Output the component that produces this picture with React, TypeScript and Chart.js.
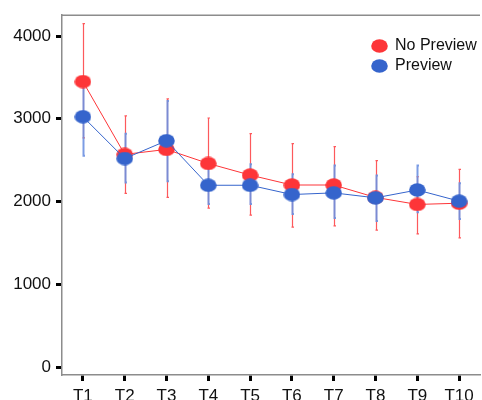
import React, { useEffect, useRef } from "react";
import { Chart, registerables } from "chart.js";

Chart.register(...registerables);

const categories = ["T1", "T2", "T3", "T4", "T5", "T6", "T7", "T8", "T9", "T10"];
const noPreview = [3450, 2570, 2630, 2460, 2320, 2200, 2200, 2050, 1965, 1980];
const noPreviewHigh = [4150, 3035, 3240, 3010, 2820, 2700, 2665, 2495, 2300, 2390];
const noPreviewLow = [2770, 2100, 2050, 1920, 1835, 1690, 1705, 1655, 1610, 1560];
const preview = [3025, 2520, 2735, 2197, 2197, 2085, 2105, 2045, 2140, 2005];
const previewHigh = [3500, 2820, 3215, 2450, 2450, 2330, 2435, 2315, 2435, 2220];
const previewLow = [2555, 2230, 2245, 1970, 1970, 1850, 1800, 1765, 1870, 1790];
const yTicks = [0, 1000, 2000, 3000, 4000];
const seriesNames = ["No Preview", "Preview"];

const RED = "#fd3538";
const BLUE = "#3564cc";
const RED_ERR = "rgba(253,60,64,0.85)";
const BLUE_ERR = "rgba(110,145,225,0.9)";
const FONT = "'Liberation Sans', Arial, Helvetica, sans-serif";

function ellipse(color: string, w: number, h: number): HTMLCanvasElement {
  const c = document.createElement("canvas");
  c.width = w;
  c.height = h;
  const ctx = c.getContext("2d")!;
  ctx.fillStyle = color;
  ctx.beginPath();
  ctx.ellipse(w / 2, h / 2, w / 2 - 0.2, h / 2 - 0.2, 0, 0, Math.PI * 2);
  ctx.fill();
  return c;
}

export default function App() {
  const ref = useRef<HTMLCanvasElement | null>(null);

  useEffect(() => {
    document.body.style.margin = "0";
    const canvas = ref.current!;
    const redPt = ellipse(RED, 17, 14);
    const bluePt = ellipse(BLUE, 17, 14);

    const errorBars = {
      id: "errorBars",
      beforeDatasetsDraw(chart: any) {
        const { ctx, scales } = chart;
        const x = scales.x;
        const y = scales.y;
        const sets = [
          { hi: noPreviewHigh, lo: noPreviewLow, color: RED_ERR, w: 1.2 },
          { hi: previewHigh, lo: previewLow, color: BLUE_ERR, w: 2 },
        ];
        ctx.save();
        for (const s of sets) {
          ctx.strokeStyle = s.color;
          ctx.lineWidth = s.w;
          for (let i = 0; i < categories.length; i++) {
            const px = Math.round(x.getPixelForValue(i)) + 0.5;
            const top = y.getPixelForValue(s.hi[i]);
            const bot = y.getPixelForValue(s.lo[i]);
            ctx.beginPath();
            ctx.moveTo(px, top);
            ctx.lineTo(px, bot);
            ctx.moveTo(px - 1, top);
            ctx.lineTo(px + 1.5, top);
            ctx.moveTo(px - 1, bot);
            ctx.lineTo(px + 1.5, bot);
            ctx.stroke();
          }
        }
        ctx.restore();
      },
      afterDraw(chart: any) {
        const { ctx, chartArea } = chart;
        ctx.save();
        ctx.strokeStyle = "#8c8c8c";
        ctx.lineWidth = 1.5;
        ctx.beginPath();
        ctx.moveTo(chartArea.left, chartArea.top);
        ctx.lineTo(chartArea.right, chartArea.top);
        ctx.stroke();
        const items = [
          { label: seriesNames[0], img: redPt, y: 46 },
          { label: seriesNames[1], img: bluePt, y: 66 },
        ];
        ctx.font = `16px ${FONT}`;
        ctx.fillStyle = "#111";
        ctx.textBaseline = "middle";
        ctx.textAlign = "left";
        for (const it of items) {
          ctx.drawImage(it.img, 371, it.y - 7, 17, 14);
          ctx.fillText(it.label, 395, it.y);
        }
        ctx.restore();
      },
    };

    const chart = new Chart(canvas, {
      type: "line",
      data: {
        labels: categories,
        datasets: [
          {
            label: seriesNames[0],
            data: noPreview,
            borderColor: RED,
            backgroundColor: RED,
            borderWidth: 1,
            pointStyle: redPt as any,
            order: 2,
          },
          {
            label: seriesNames[1],
            data: preview,
            borderColor: BLUE,
            backgroundColor: BLUE,
            borderWidth: 1,
            pointStyle: bluePt as any,
            order: 1,
          },
        ],
      },
      options: {
        animation: false,
        responsive: false,
        maintainAspectRatio: false,
        devicePixelRatio: 1,
        layout: { padding: { top: 13, right: 0, left: 0, bottom: 0 } },
        plugins: {
          legend: { display: false },
          tooltip: { enabled: false },
        },
        scales: {
          x: {
            offset: true,
            grid: {
              drawOnChartArea: false,
              drawTicks: true,
              tickLength: 6,
              tickWidth: 3,
              tickColor: "#000",
              offset: false,
            },
            border: { display: true, color: "#8c8c8c", width: 1.5 },
            ticks: {
              color: "#111",
              font: { family: FONT, size: 17 },
              padding: 5,
              maxRotation: 0,
              autoSkip: false,
            },
            afterFit(scale: any) {
              scale.height = 25;
            },
          },
          y: {
            min: -96,
            max: 4252,
            afterBuildTicks(scale: any) {
              scale.ticks = yTicks.map((v) => ({ value: v }));
            },
            grid: {
              drawOnChartArea: false,
              drawTicks: true,
              tickLength: 6,
              tickWidth: 3,
              tickColor: "#000",
            },
            border: { display: true, color: "#8c8c8c", width: 1.5 },
            ticks: {
              color: "#111",
              font: { family: FONT, size: 17 },
              padding: 5,
              callback: (v: any) => String(v),
            },
            afterFit(scale: any) {
              scale.width = 62;
            },
          },
        },
      },
      plugins: [errorBars],
    });
    return () => chart.destroy();
  }, []);

  return (
    <div style={{ position: "fixed", left: 0, top: 0, width: 482, height: 400, overflow: "hidden", background: "#fff" }}>
      <canvas ref={ref} width={485} height={400} style={{ display: "block" }} />
    </div>
  );
}
